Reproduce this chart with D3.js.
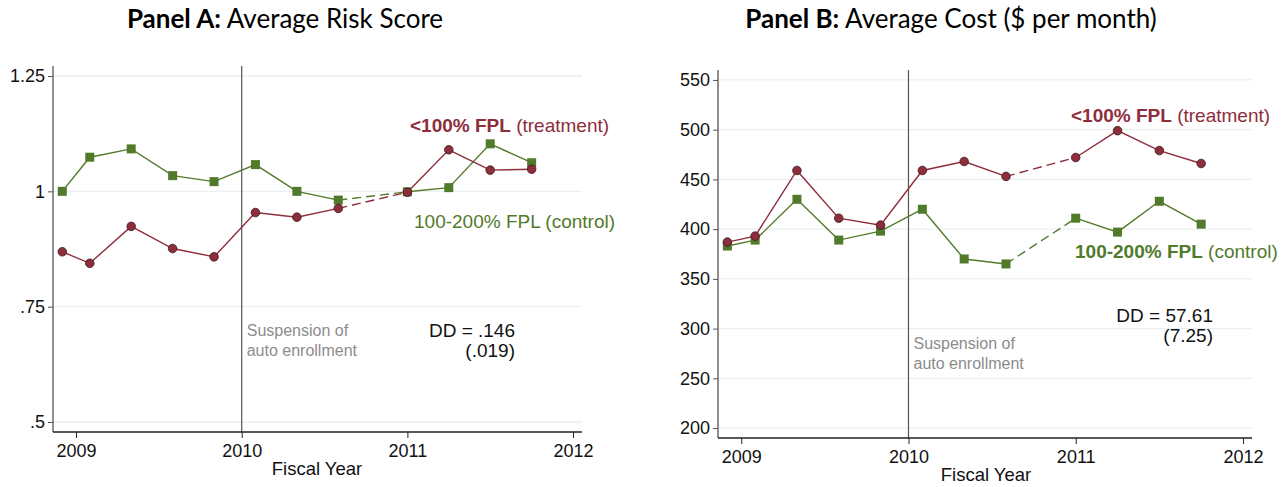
<!DOCTYPE html>
<html>
<head>
<meta charset="utf-8">
<script src="https://cdn.jsdelivr.net/npm/d3@7"></script>
<style>
  body { margin: 0; background: #fff; }
  svg { display: block; }
  .tick text { font-family: "Liberation Sans", Arial, sans-serif; font-size: 18px; fill: #111; }
  .lbl { font-family: "Liberation Sans", Arial, sans-serif; }
  .ttl { font-family: Lato, "DejaVu Sans", sans-serif; font-size: 26px; fill: #000; }
</style>
</head>
<body>
<svg width="1286" height="487"></svg>
<script>
// fiscal-year positions of the quarterly observations
var periods = [2008.917, 2009.083, 2009.333, 2009.583, 2009.833, 2010.083, 2010.333, 2010.583, 2011.0, 2011.25, 2011.5, 2011.75];
// index after which the line is dashed (gap in data)
var gapAfter = 7;

// Panel A: average risk score
var riskTreat = [0.869, 0.844, 0.924, 0.876, 0.858, 0.954, 0.944, 0.963, 0.998, 1.090, 1.046, 1.048];
var riskCtrl = [1.000, 1.074, 1.092, 1.034, 1.021, 1.058, 1.000, 0.981, 0.999, 1.008, 1.103, 1.062];
var riskTicks = [0.5, 0.75, 1, 1.25];
var riskTickLabels = ['.5', '.75', '1', '1.25'];

// Panel B: average cost ($ per month)
var costTreat = [387, 393, 459, 411, 404, 459, 468, 453, 472, 499, 479, 466];
var costCtrl = [383, 389, 430, 389, 398, 420, 370, 365, 411, 397, 428, 405];
var costTicks = [200, 250, 300, 350, 400, 450, 500, 550];

var yearTicks = [2009, 2010, 2011, 2012];

var red = '#8e2d3b';
var green = '#527a2b';

var svg = d3.select('svg');

function drawPanel(opt) {
  var x = d3.scaleLinear().domain([2008.861, 2012.054]).range([opt.left, opt.right]);
  var y = d3.scaleLinear().domain(opt.yDomain).range([opt.bottom, opt.top]);
  var g = svg.append('g');

  // gridlines
  g.selectAll('.grid').data(opt.ticks).enter().append('line')
    .attr('x1', opt.left).attr('x2', opt.right)
    .attr('y1', function(d) { return y(d); }).attr('y2', function(d) { return y(d); })
    .attr('stroke', '#e9f1f2').attr('stroke-width', 1.3);

  // suspension line
  g.append('line')
    .attr('x1', x(2010)).attr('x2', x(2010))
    .attr('y1', opt.top).attr('y2', opt.bottom)
    .attr('stroke', '#555').attr('stroke-width', 1.2);

  // axes
  var yAxis = d3.axisLeft(y).tickValues(opt.ticks).tickSize(5).tickPadding(3)
    .tickFormat(function(d, i) { return opt.tickLabels[i]; });
  var ya = g.append('g').attr('transform', 'translate(' + opt.left + ',0)').call(yAxis);
  ya.select('.domain').attr('stroke', '#555').attr('stroke-width', 1.3).attr('d', 'M0,' + opt.top + 'V' + opt.bottom);
  ya.selectAll('.tick line').attr('stroke', '#555');

  var xAxis = d3.axisBottom(x).tickValues(yearTicks).tickSize(6).tickPadding(6).tickFormat(d3.format('d'));
  var xa = g.append('g').attr('transform', 'translate(0,' + opt.bottom + ')').call(xAxis);
  xa.select('.domain').attr('stroke', '#222').attr('stroke-width', 1.3).attr('d', 'M' + opt.left + ',0H' + opt.right);
  xa.selectAll('.tick line').attr('stroke', '#222');

  // series
  var line = d3.line().x(function(d) { return x(d[0]); }).y(function(d) { return y(d[1]); });
  [[opt.ctrl, green], [opt.treat, red]].forEach(function(s) {
    var pts = periods.map(function(p, i) { return [p, s[0][i]]; });
    g.append('path').attr('d', line(pts.slice(0, gapAfter + 1))).attr('fill', 'none').attr('stroke', s[1]).attr('stroke-width', 1.4);
    g.append('path').attr('d', line(pts.slice(gapAfter, gapAfter + 2))).attr('fill', 'none').attr('stroke', s[1])
      .attr('stroke-width', 1.4).attr('stroke-dasharray', '9,5');
    g.append('path').attr('d', line(pts.slice(gapAfter + 1))).attr('fill', 'none').attr('stroke', s[1]).attr('stroke-width', 1.4);
  });
  g.selectAll('.sq').data(opt.ctrl).enter().append('rect')
    .attr('x', function(d, i) { return x(periods[i]) - 4.5; })
    .attr('y', function(d) { return y(d) - 4.5; })
    .attr('width', 9).attr('height', 9).attr('fill', green);
  g.selectAll('.ci').data(opt.treat).enter().append('circle')
    .attr('cx', function(d, i) { return x(periods[i]); })
    .attr('cy', function(d) { return y(d); })
    .attr('r', 4.3).attr('fill', red).attr('stroke', '#3a1a1e').attr('stroke-width', 0.8);

  // axis title
  g.append('text').attr('class', 'lbl').attr('x', opt.xTitleX).attr('y', opt.bottom + 43)
    .attr('text-anchor', 'middle').attr('font-size', 18.5).attr('fill', '#111').text('Fiscal Year');

  // panel title
  var t = g.append('text').attr('class', 'ttl').attr('x', opt.titleX).attr('y', 28).attr('text-anchor', 'middle');
  t.append('tspan').attr('font-weight', 'bold').text(opt.titleBold);
  t.append('tspan').text(' ' + opt.title);

  // series labels
  var tl = g.append('text').attr('class', 'lbl').attr('x', opt.treatLbl[0]).attr('y', opt.treatLbl[1]).attr('font-size', 19).attr('fill', red);
  tl.append('tspan').attr('font-weight', 'bold').text('<100% FPL');
  tl.append('tspan').text(' (treatment)');
  var cl = g.append('text').attr('class', 'lbl').attr('x', opt.ctrlLbl[0]).attr('y', opt.ctrlLbl[1]).attr('font-size', 19).attr('fill', green);
  cl.append('tspan').attr('font-weight', opt.ctrlBold ? 'bold' : 'normal').text('100-200% FPL');
  cl.append('tspan').text(' (control)');

  // suspension note
  var sn = g.append('text').attr('class', 'lbl').attr('font-size', 16).attr('fill', '#8c8c8c');
  sn.append('tspan').attr('x', x(2010) + 5).attr('y', opt.noteY).text('Suspension of');
  sn.append('tspan').attr('x', x(2010) + 5).attr('y', opt.noteY + 20).text('auto enrollment');

  // DD estimate
  var dd = g.append('text').attr('class', 'lbl').attr('font-size', 19).attr('fill', '#111').attr('text-anchor', 'end');
  dd.append('tspan').attr('x', opt.ddX).attr('y', opt.ddY).text('DD = ' + opt.dd);
  dd.append('tspan').attr('x', opt.ddX).attr('y', opt.ddY + 20).text('(' + opt.se + ')');
}

drawPanel({
  left: 53, right: 582, top: 66, bottom: 432,
  yDomain: [0.4783, 1.2717], ticks: riskTicks, tickLabels: riskTickLabels,
  treat: riskTreat, ctrl: riskCtrl,
  titleBold: 'Panel A:', title: 'Average Risk Score', titleX: 285,
  xTitleX: 317,
  treatLbl: [410, 132], ctrlLbl: [414, 228], ctrlBold: false,
  noteY: 336, ddX: 515, ddY: 337, dd: '.146', se: '.019'
});

drawPanel({
  left: 718, right: 1252, top: 70, bottom: 438,
  yDomain: [190, 560], ticks: costTicks, tickLabels: costTicks.map(String),
  treat: costTreat, ctrl: costCtrl,
  titleBold: 'Panel B:', title: 'Average Cost ($ per month)', titleX: 951,
  xTitleX: 986,
  treatLbl: [1071, 122], ctrlLbl: [1075, 258], ctrlBold: true,
  noteY: 349, ddX: 1213, ddY: 322, dd: '57.61', se: '7.25'
});
</script>
</body>
</html>
